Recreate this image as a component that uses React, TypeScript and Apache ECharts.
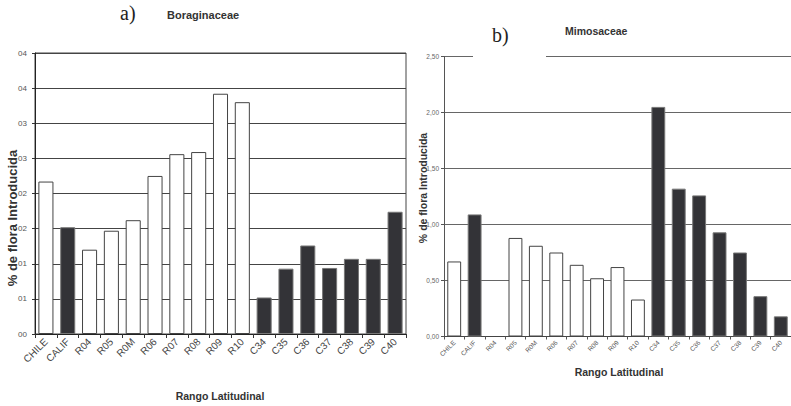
import React, { useEffect, useRef } from "react";
import * as echarts from "echarts";

const categories = ["CHILE", "CALIF", "R04", "R05", "R0M", "R06", "R07", "R08", "R09", "R10", "C34", "C35", "C36", "C37", "C38", "C39", "C40"];
const darkCategories = ["CALIF", "C34", "C35", "C36", "C37", "C38", "C39", "C40"];
const boraginaceae = [2.17, 1.52, 1.2, 1.47, 1.62, 2.25, 2.56, 2.59, 3.42, 3.3, 0.52, 0.93, 1.26, 0.94, 1.07, 1.07, 1.74];
const mimosaceae = [0.67, 1.09, 0, 0.88, 0.81, 0.75, 0.64, 0.52, 0.62, 0.33, 2.05, 1.32, 1.26, 0.93, 0.75, 0.36, 0.18];
const titleA = "a)";
const nameA = "Boraginaceae";
const titleB = "b)";
const nameB = "Mimosaceae";
const yName = "% de flora Introducida";
const xName = "Rango Latitudinal";

const SANS = "Liberation Sans, Arial, sans-serif";
const SERIF = "Liberation Serif, Times New Roman, serif";

function barData(values: number[]) {
  return values.map((v, i) => {
    const dark = darkCategories.includes(categories[i]);
    return {
      value: v,
      itemStyle: dark
        ? { color: "#333337", borderColor: "#777", borderWidth: 1 }
        : { color: "#ffffff", borderColor: "#444", borderWidth: 1 },
    };
  });
}

export default function App() {
  const ref = useRef<HTMLDivElement>(null);
  useEffect(() => {
    if (!ref.current) return;
    const chart = echarts.init(ref.current, null, { renderer: "svg" });
    chart.setOption({
      animation: false,
      backgroundColor: "#ffffff",
      grid: [
        { left: 35, top: 53, right: 385, bottom: 72, show: true, borderColor: "#444", borderWidth: 1, backgroundColor: "transparent" },
        { left: 444, top: 56.5, right: -4, bottom: 69.5 },
      ],
      xAxis: [
        {
          type: "category", gridIndex: 0, data: categories,
          axisLine: { lineStyle: { color: "#222" } },
          axisTick: { show: true, length: 4, lineStyle: { color: "#333" } },
          axisLabel: { rotate: 45, fontSize: 10, color: "#444", fontFamily: SANS, margin: 6, interval: 0 },
        },
        {
          type: "category", gridIndex: 1, data: categories,
          axisLine: { lineStyle: { color: "#444" } },
          axisTick: { show: true, length: 3, lineStyle: { color: "#555" } },
          axisLabel: { rotate: 45, fontSize: 6.5, color: "#555", fontFamily: SANS, margin: 5, interval: 0 },
        },
      ],
      yAxis: [
        {
          type: "value", gridIndex: 0, min: 0, max: 4, interval: 0.5,
          axisLine: { show: true, lineStyle: { color: "#222" } },
          axisTick: { show: true, length: 3, lineStyle: { color: "#333" } },
          axisLabel: { fontSize: 8, color: "#555", fontFamily: SANS, margin: 8, formatter: (v: number) => String(Math.round(v)).padStart(2, "0") },
          splitLine: { lineStyle: { color: "#444", width: 1 } },
        },
        {
          type: "value", gridIndex: 1, min: 0, max: 2.5, interval: 0.5,
          axisLine: { show: true, lineStyle: { color: "#555" } },
          axisTick: { show: true, length: 3, lineStyle: { color: "#555" } },
          axisLabel: { fontSize: 6.5, color: "#666", fontFamily: SANS, margin: 5, formatter: (v: number) => v.toFixed(2).replace(".", ",") },
          splitLine: { lineStyle: { color: "#666", width: 1 } },
        },
      ],
      series: [
        { type: "bar", xAxisIndex: 0, yAxisIndex: 0, data: barData(boraginaceae), barCategoryGap: "31%" },
        { type: "bar", xAxisIndex: 1, yAxisIndex: 1, data: barData(mimosaceae), barCategoryGap: "32%" },
      ],
      graphic: [
        { type: "text", left: 120, top: 3, style: { text: titleA, font: `20px ${SERIF}`, fill: "#222" } },
        { type: "text", left: 167, top: 9, style: { text: nameA, font: `bold 11px ${SANS}`, fill: "#333" } },
        { type: "rect", shape: { x: 473, y: 50, width: 73, height: 12 }, style: { fill: "#ffffff" }, z: 100 },
        { type: "text", left: 492, top: 25, z: 101, style: { text: titleB, font: `20px ${SERIF}`, fill: "#222" } },
        { type: "text", left: 565, top: 25, z: 101, style: { text: nameB, font: `bold 10.5px ${SANS}`, fill: "#333" } },
        { type: "text", x: 12, y: 218, rotation: Math.PI / 2, style: { text: yName, font: `bold 13px ${SANS}`, fill: "#333", align: "center", verticalAlign: "middle" } },
        { type: "text", x: 423, y: 188, rotation: Math.PI / 2, style: { text: yName, font: `bold 10.5px ${SANS}`, fill: "#333", align: "center", verticalAlign: "middle" } },
        { type: "text", x: 220, y: 396, style: { text: xName, font: `bold 10.5px ${SANS}`, fill: "#333", align: "center", verticalAlign: "middle" } },
        { type: "text", x: 619, y: 372, style: { text: xName, font: `bold 10.5px ${SANS}`, fill: "#333", align: "center", verticalAlign: "middle" } },
      ],
    });
    return () => chart.dispose();
  }, []);
  return <div ref={ref} style={{ position: "fixed", left: 0, top: 0, width: 791, height: 406 }} />;
}
